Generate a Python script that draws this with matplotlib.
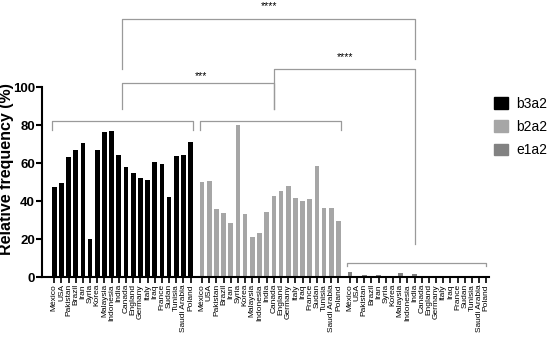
import numpy as np
import matplotlib
matplotlib.use("Agg")
import matplotlib.pyplot as plt
from matplotlib.patches import Patch

plt.rcParams['font.family'] = ['Liberation Sans', 'DejaVu Sans']

countries = ["México", "USA", "Pakistan", "Brazil", "Iran", "Syria", "Korea",
             "Malaysia", "Indonesia", "India", "Canada", "England", "Germany",
             "Italy", "Iraq", "France", "Sudan", "Tunisia", "Saudi Arabia", "Poland"]

b3a2 = [47.6, 49.7, 63.2, 66.7, 70.8, 20.2, 67.1, 76.6, 77.2, 64.2,
        57.9, 55.0, 52.2, 51.2, 60.5, 59.5, 42.1, 63.9, 64.4, 71.2]
b2a2 = [50.3, 50.8, 35.8, 33.8, 28.3, 80.2, 33.5, 21.4, 23.4, 34.5,
        42.7, 45.1, 48.1, 41.8, 40.0, 40.9, 58.4, 36.6, 36.3, 29.4]
e1a2 = [2.5, 0, 1.2, 0, 1.0, 0, 0, 2.2, 0, 1.5,
        0, 0, 0, 0, 0, 0, 0, 0, 0, 0]

series = [("b3a2", b3a2, "#000000"), ("b2a2", b2a2, "#a6a6a6"), ("e1a2", e1a2, "#828282")]

fig = plt.figure(figsize=(5.5, 3.38), dpi=100)
ax = fig.add_axes([0.0764, 0.18, 0.813, 0.562])

gap = 20.6
all_x = []
for i, (name, vals, col) in enumerate(series):
    x = np.arange(len(countries)) + i * gap
    ax.bar(x, vals, width=0.65, color=col, label=name)
    all_x.extend(x)

ax.set_xticks(all_x)
ax.set_xticklabels(countries * 3, rotation=90, fontsize=6)
ax.set_xlim(-1.7, 60.6)
ax.set_ylim(0, 100)
ax.set_yticks([0, 20, 40, 60, 80, 100])
ax.tick_params(axis="y", labelsize=9.5, width=1.5, length=4, pad=1)
ax.tick_params(axis="x", width=1.2, length=4, pad=1)
for lab in ax.get_yticklabels():
    lab.set_fontweight("bold")
ax.set_ylabel("Relative frequency (%)", fontsize=11.5, fontweight="bold")
ax.yaxis.set_label_coords(-0.063, 0.57)
for s in ["top", "right"]:
    ax.spines[s].set_visible(False)
for s in ["left", "bottom"]:
    ax.spines[s].set_linewidth(1.5)

lc = "#9a9a9a"


def bracket(x1, x2, y, y1, y2):
    ax.plot([x1, x1, x2, x2], [y1, y, y, y2], color=lc, lw=0.9, clip_on=False)


# group brackets
for i in range(2):
    bracket(i * gap - 0.35, i * gap + 19.35, 82.4, 77.5, 77.5)
bracket(2 * gap - 0.35, 2 * gap + 19.0, 7.7, 6.0, 6.0)

# comparison brackets
bracket(9.5, 50.3, 135.8, 109.6, 114.7)
bracket(9.5, 30.6, 102.3, 88.4, 88.4)
bracket(30.6, 50.3, 109.5, 88.4, 17.5)
ax.text(30.0, 142.8, "****", fontsize=7.5, ha="center", va="center", clip_on=False)
ax.text(20.5, 106.0, "***", fontsize=7.5, ha="center", va="center", clip_on=False)
ax.text(40.5, 116.1, "****", fontsize=7.5, ha="center", va="center", clip_on=False)

handles = [Patch(color=c, label=n) for n, _, c in series]
fig.legend(handles=handles, loc="upper left", bbox_to_anchor=(0.875, 0.75),
           frameon=False, fontsize=10, handlelength=1.0, handleheight=0.9,
           labelspacing=0.65, handletextpad=0.6)

fig.savefig("out.png", dpi=100)
